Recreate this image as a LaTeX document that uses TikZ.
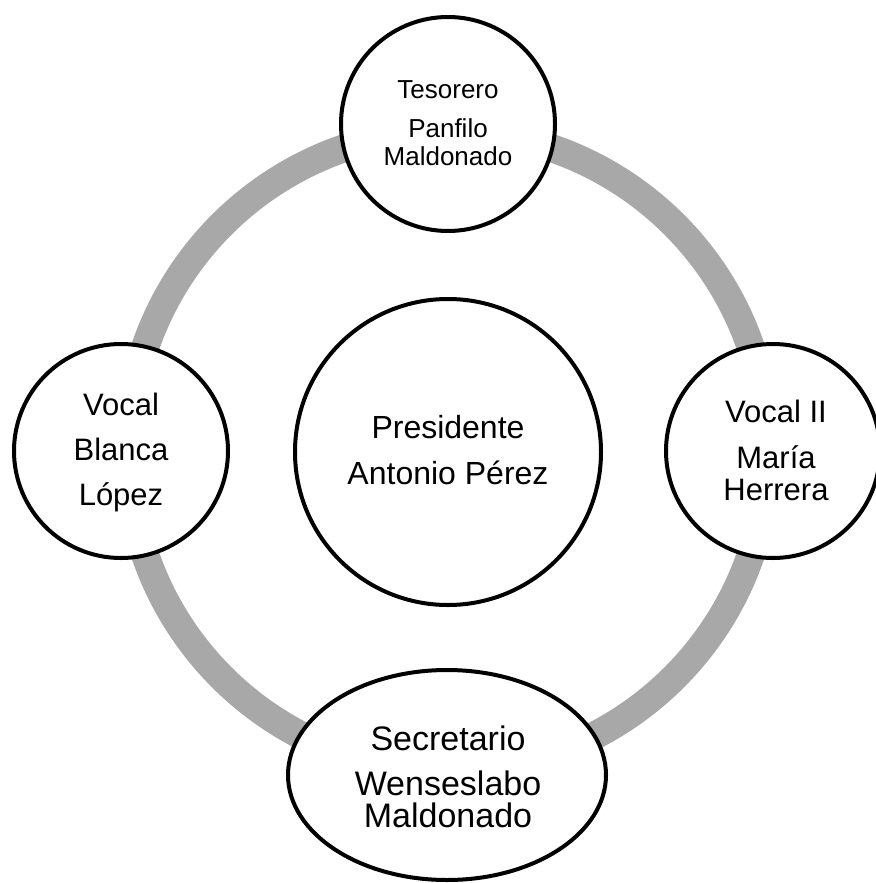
\documentclass[tikz,border=0pt]{standalone}
\usepackage{fontspec}
\setmainfont{Liberation Sans}
\usetikzlibrary{shapes.geometric}
\definecolor{ringgray}{RGB}{168,168,168}
\tikzset{
  member/.style={circle, draw=black, fill=white, line width=4pt, inner sep=0pt, minimum size=214pt},
  memberell/.style={ellipse, draw=black, fill=white, line width=4pt, inner sep=0pt, minimum width=318pt, minimum height=210pt},
  lbl/.style={anchor=base, inner sep=0pt, text=black},
  fsmall/.style={font=\fontsize{26}{30}\selectfont},
  fmid/.style={font=\fontsize{31}{36}\selectfont},
  fcen/.style={font=\fontsize{32}{37}\selectfont},
  fbig/.style={font=\fontsize{34}{39}\selectfont}
}
\begin{document}
\begin{tikzpicture}[x=1pt,y=-1pt]
\useasboundingbox (0,0) rectangle (875,883);
\fill[white] (0,0) rectangle (875,883);
% ring
\draw[ringgray, line width=28pt] (448,451) circle[radius=320];
% members
\node[member] (tes) at (448,124) {};
\node[member] (voc) at (121,451) {};
\node[member] (voc2) at (773,451) {};
\node[member, minimum size=306pt] (pres) at (448,452) {};
\node[memberell] (sec) at (447,775) {};
% texts
\node[lbl, fsmall] (tes1) at (448,99) {Tesorero};
\node[lbl, fsmall] (tes2) at (448,137) {Panfilo};
\node[lbl, fsmall] (tes3) at (448,165) {Maldonado};
\node[lbl, fmid] (voc1) at (121,415) {Vocal};
\node[lbl, fmid] (vocb) at (121,460) {Blanca};
\node[lbl, fmid] (vocc) at (121,505) {López};
\node[lbl, fmid] (v2a) at (776,422) {Vocal II};
\node[lbl, fmid] (v2b) at (776,468) {María};
\node[lbl, fmid] (v2c) at (776,500) {Herrera};
\node[lbl, fcen] (pra) at (448,438) {Presidente};
\node[lbl, fcen] (prb) at (448,484) {Antonio Pérez};
\node[lbl, fbig] (seca) at (448,750) {Secretario};
\node[lbl, fbig] (secb) at (448,795) {Wenseslabo};
\node[lbl, fbig] (secc) at (448,827) {Maldonado};
\end{tikzpicture}
\end{document}
